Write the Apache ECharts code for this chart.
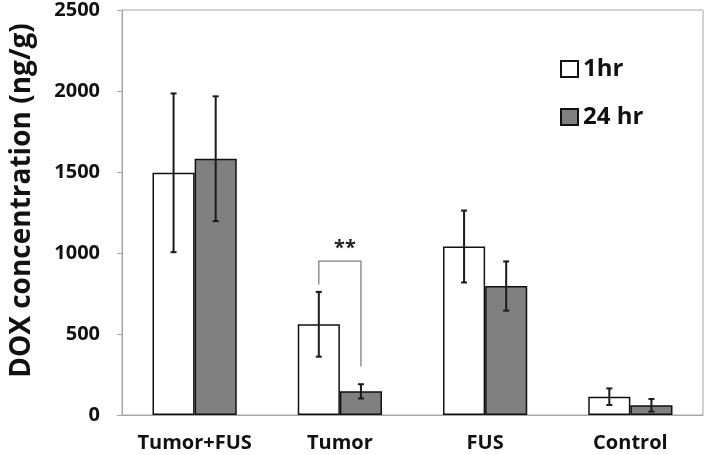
<!DOCTYPE html>
<html><head><meta charset="utf-8">
<script src="https://cdn.jsdelivr.net/npm/echarts@6/dist/echarts.min.js"></script>
<style>html,body{margin:0;padding:0;background:#fff}#c{width:706px;height:455px}</style>
</head><body><div id="c"></div>
<script>
var categories = ['Tumor+FUS', 'Tumor', 'FUS', 'Control'];
var hr1 = [1495, 560, 1040, 113];
var hr1Err = [490, 200, 222, 51];
var hr24 = [1582, 146, 796, 60];
var hr24Err = [385, 44, 152, 39];
var yTicks = [0, 500, 1000, 1500, 2000, 2500];
// significance bracket: [category index, bracket top, left leg end, right leg end, label]
var sigBracket = [[1, 950, 805, 300, '**']];

var FONT = '"Open Sans"';
var GAP = 0.42;

function errData(vals, errs, s) {
  return vals.map(function (v, i) { return [i, v, errs[i], s]; });
}
function barHalf(api) {
  var band = api.size([1, 0])[0];
  return band * (1 - GAP) / 2;
}
function renderErr(params, api) {
  var i = api.value(0), v = api.value(1), e = api.value(2), s = api.value(3);
  var w = barHalf(api);
  var off = s === 0 ? -w / 2 : w / 2;
  var hi = api.coord([i, v + e]), lo = api.coord([i, v - e]);
  var x = hi[0] + off, cap = 3;
  var st = { stroke: '#1a1a1a', lineWidth: 2 };
  return { type: 'group', children: [
    { type: 'line', shape: { x1: x, y1: hi[1], x2: x, y2: lo[1] }, style: st },
    { type: 'line', shape: { x1: x - cap, y1: hi[1], x2: x + cap, y2: hi[1] }, style: st },
    { type: 'line', shape: { x1: x - cap, y1: lo[1], x2: x + cap, y2: lo[1] }, style: st }
  ]};
}
function renderBracket(params, api) {
  var i = api.value(0);
  var w = barHalf(api);
  var top = api.coord([i, api.value(1)]);
  var l = api.coord([i, api.value(2)]);
  var r = api.coord([i, api.value(3)]);
  var xl = top[0] - w / 2, xr = top[0] + w / 2;
  var st = { stroke: '#808080', lineWidth: 1.3, fill: null };
  return { type: 'group', children: [
    { type: 'polyline', shape: { points: [[xl, l[1]], [xl, top[1]], [xr, top[1]], [xr, r[1]]] }, style: st },
    { type: 'text', style: { text: sigBracket[params.dataIndex][4], x: top[0] + 5, y: top[1] - 3,
      align: 'center', verticalAlign: 'bottom', fill: '#222', font: 'bold 20px ' + FONT } }
  ]};
}

var chart = echarts.init(document.getElementById('c'));
chart.setOption({
  animation: false,
  backgroundColor: '#fff',
  grid: { left: 120, right: 3, top: 10, bottom: 40, show: true, borderColor: '#a6a6a6', borderWidth: 1 },
  legend: {
    orient: 'vertical', left: 555, top: 52, itemWidth: 17, itemHeight: 16, itemGap: 24,
    icon: 'rect',
    data: ['1hr', '24 hr'],
    textStyle: { fontFamily: FONT, fontWeight: 'bold', fontSize: 24, color: '#111' }
  },
  xAxis: {
    type: 'category', data: categories,
    axisLine: { lineStyle: { color: '#a6a6a6' } },
    axisTick: { show: false },
    axisLabel: { interval: 0, hideOverlap: false, margin: 18, fontFamily: FONT, fontWeight: 'bold', fontSize: 20, color: '#111' }
  },
  yAxis: {
    type: 'value', min: 0, max: 2500, interval: 500,
    name: 'DOX concentration (ng/g)', nameLocation: 'middle', nameGap: 86,
    nameTextStyle: { fontFamily: FONT, fontWeight: 'bold', fontSize: 28, color: '#111', padding: [0, 0, 0, 24] },
    axisLine: { show: true, lineStyle: { color: '#a6a6a6' } },
    axisTick: { show: true, length: 5, lineStyle: { color: '#a6a6a6' } },
    splitLine: { show: false },
    axisLabel: { margin: 22, fontFamily: FONT, fontWeight: 'bold', fontSize: 20, color: '#111',
      formatter: function (v) { return yTicks.indexOf(v) >= 0 ? String(v) : ''; } }
  },
  series: [
    { name: '1hr', type: 'bar', data: hr1, barGap: '0%', barCategoryGap: (GAP * 100) + '%',
      itemStyle: { color: '#ffffff', borderColor: '#111', borderWidth: 1.5 } },
    { name: '24 hr', type: 'bar', data: hr24, barGap: '0%', barCategoryGap: (GAP * 100) + '%',
      itemStyle: { color: '#808080', borderColor: '#111', borderWidth: 1.5 } },
    { type: 'custom', renderItem: renderErr, data: errData(hr1, hr1Err, 0), z: 5, silent: true },
    { type: 'custom', renderItem: renderErr, data: errData(hr24, hr24Err, 1), z: 5, silent: true },
    { type: 'custom', renderItem: renderBracket, data: sigBracket.map(function (b) { return [b[0], b[1], b[2], b[3]]; }), z: 5, silent: true }
  ]
});
</script></body></html>
